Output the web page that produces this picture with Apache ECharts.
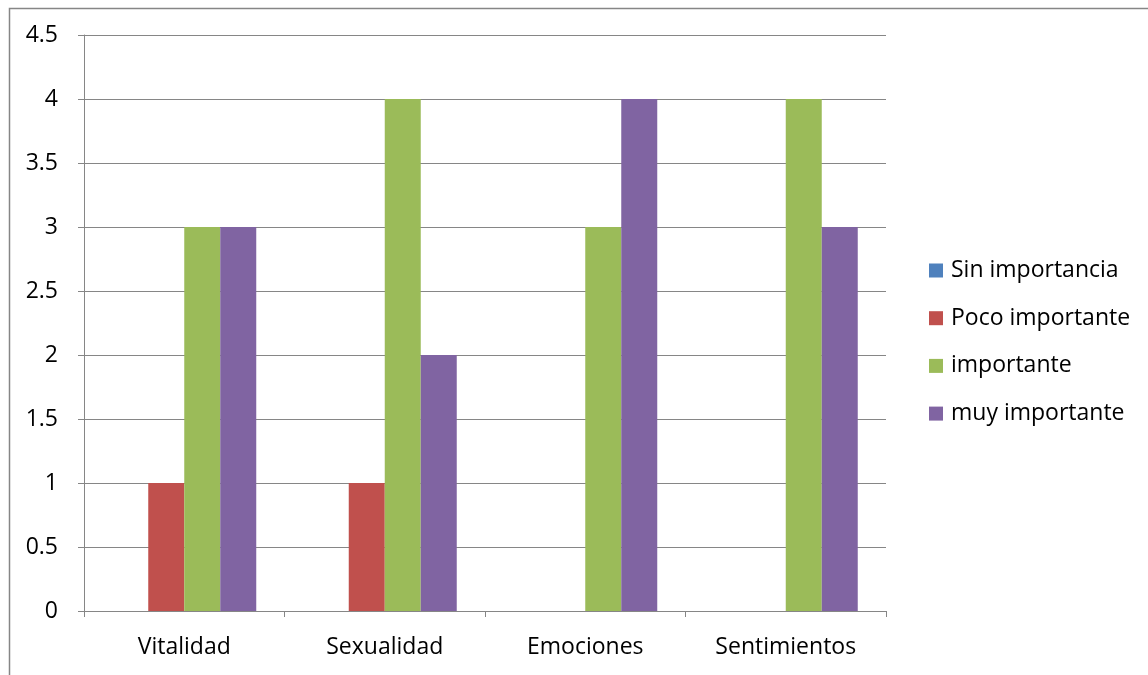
<!DOCTYPE html>
<html>
<head>
<meta charset="utf-8">
<style>html,body{margin:0;padding:0;background:#fff;}#c{width:1148px;height:675px;}</style>
<script src="https://cdn.jsdelivr.net/npm/echarts@6/dist/echarts.min.js"></script>
</head>
<body>
<div id="c"></div>
<script>
var categories = ['Vitalidad', 'Sexualidad', 'Emociones', 'Sentimientos'];
var seriesNames = ['Sin importancia', 'Poco importante', 'importante', 'muy importante'];
var sinImportancia = [0, 0, 0, 0];
var pocoImportante = [1, 1, 0, 0];
var importante = [3, 4, 3, 4];
var muyImportante = [3, 2, 4, 3];
var colors = ['#4F81BD', '#C0504D', '#9BBB59', '#8064A2'];

var font = '"Open Sans", sans-serif';
var chart = echarts.init(document.getElementById('c'), null, {renderer: 'canvas'});
var dataSets = [sinImportancia, pocoImportante, importante, muyImportante];
chart.setOption({
  animation: false,
  color: colors,
  textStyle: {fontFamily: font},
  graphic: [{type: 'rect', left: 7, top: 6, shape: {x: 0, y: 0, width: 1200, height: 700}, style: {fill: 'none', stroke: '#868686', lineWidth: 1.5}, silent: true}],
  grid: {left: 84, right: 262, top: 35, bottom: 64, containLabel: false},
  legend: {
    orient: 'vertical', left: 924, top: 254, itemWidth: 14, itemHeight: 14, itemGap: 24.7,
    icon: 'rect', data: seriesNames,
    textStyle: {fontSize: 23, color: '#000', fontFamily: font, padding: [0, 0, 0, 3]}
  },
  xAxis: {
    type: 'category', data: categories, boundaryGap: true,
    axisLine: {lineStyle: {color: '#868686', width: 1}},
    axisTick: {show: true, length: 6, lineStyle: {color: '#868686'}},
    axisLabel: {fontSize: 23, color: '#000', margin: 25, fontFamily: font}
  },
  yAxis: {
    type: 'value', min: 0, max: 4.5, interval: 0.5,
    axisLine: {show: true, lineStyle: {color: '#868686', width: 1}},
    axisTick: {show: true, length: 6, lineStyle: {color: '#868686'}},
    splitLine: {lineStyle: {color: '#868686', width: 1}},
    axisLabel: {fontSize: 23, color: '#000', margin: 26, fontFamily: font}
  },
  series: seriesNames.map(function (n, i) {
    return {name: n, type: 'bar', data: dataSets[i], barWidth: 36, barGap: '0%'};
  })
});
</script>
</body>
</html>
